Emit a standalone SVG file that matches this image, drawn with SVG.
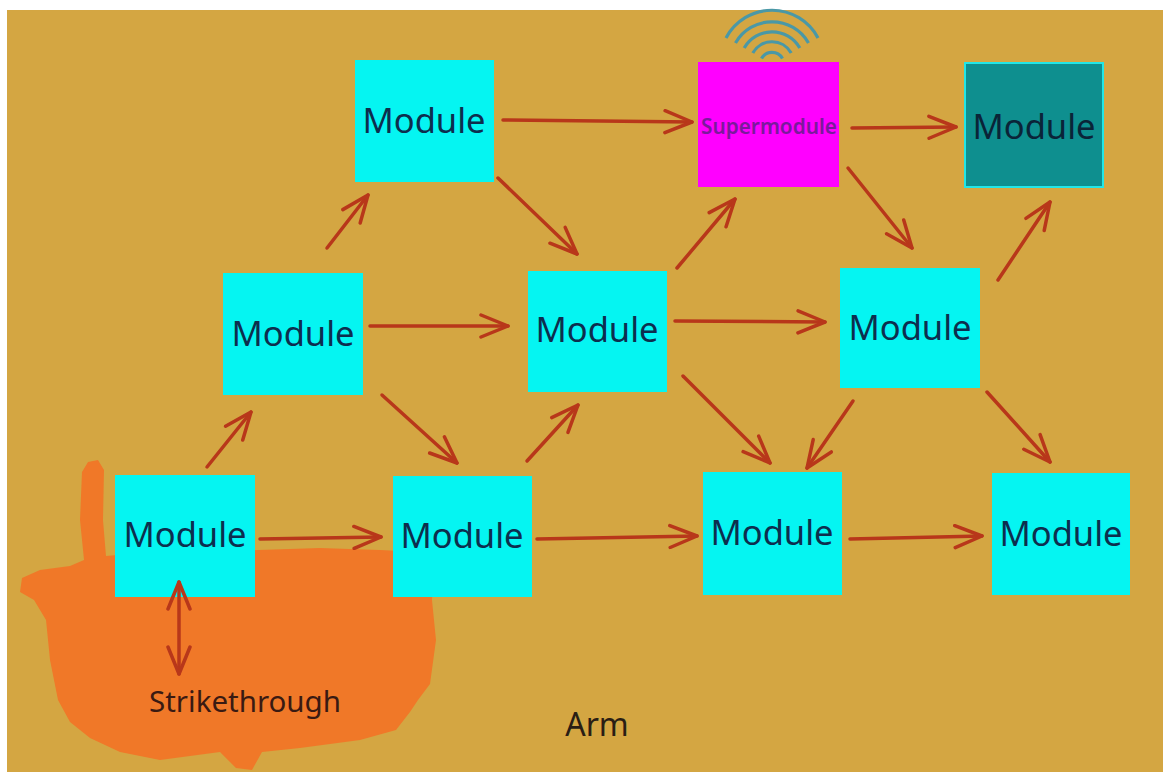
<svg xmlns="http://www.w3.org/2000/svg" width="1168" height="776" viewBox="0 0 1168 776">
<defs>
<marker id="ah" viewBox="0 0 32 26" refX="29" refY="13" markerWidth="32" markerHeight="26" markerUnits="userSpaceOnUse" orient="auto-start-reverse">
<path d="M2,2 L29,13 L2,24" fill="none" stroke="#b8371a" stroke-width="3.5" stroke-linecap="round" stroke-linejoin="round"/>
</marker>
</defs>
<style>
.box{fill:#05f5f2}
.lbl{font-family:"Noto Sans","Open Sans","DejaVu Sans",sans-serif;font-size:34.5px;fill:#0d2e4e;text-anchor:middle}
.con{fill:none;stroke:#b8371a;stroke-width:3.5;stroke-linecap:round;marker-end:url(#ah)}
.wifi{fill:none;stroke:#4a98a6;stroke-width:3.2}
</style>
<rect x="0" y="0" width="1168" height="776" fill="#ffffff"/>
<rect x="7" y="10" width="1156" height="762" fill="#d4a642"/>
<path d="M82,472 L88,462 L98,460 L104,470 L103,520 L106,556 L150,552 L210,554 L258,550 L320,548 L380,550 L420,552 L434,560 L432,600 L436,640 L430,684 L418,700 L410,712 L396,730 L360,740 L300,748 L262,752 L252,770 L236,768 L220,752 L160,760 L120,752 L90,738 L70,722 L58,700 L50,660 L46,620 L34,600 L20,592 L22,578 L40,570 L70,566 L84,560 L80,520 Z" fill="#f07828"/>
<g id="wifi">
<path class="wifi" d="M761.5,58.5 A12,12 0 0 1 782.5,58.5"/>
<path class="wifi" d="M752.8,53 A22,22 0 0 1 791.2,53"/>
<path class="wifi" d="M744.2,48 A32,32 0 0 1 799.8,48"/>
<path class="wifi" d="M735.5,43 A42,42 0 0 1 808.5,43"/>
<path class="wifi" d="M726,38 A52,52 0 0 1 818,38"/>
</g>
<g id="connectors">
<line class="con" x1="503" y1="120" x2="692" y2="122"/>
<line class="con" x1="852" y1="128" x2="956" y2="127"/>
<line class="con" x1="498" y1="178" x2="577" y2="254"/>
<line class="con" x1="327" y1="248" x2="368" y2="195"/>
<line class="con" x1="207" y1="467" x2="251" y2="412"/>
<line class="con" x1="370" y1="326" x2="508" y2="326"/>
<line class="con" x1="382" y1="395" x2="457" y2="463"/>
<line class="con" x1="527" y1="461" x2="578" y2="405"/>
<line class="con" x1="677" y1="268" x2="735" y2="199"/>
<line class="con" x1="848" y1="168" x2="912" y2="248"/>
<line class="con" x1="998" y1="280" x2="1050" y2="202"/>
<line class="con" x1="675" y1="321" x2="825" y2="322"/>
<line class="con" x1="683" y1="376" x2="770" y2="463"/>
<line class="con" x1="853" y1="401" x2="807" y2="468"/>
<line class="con" x1="987" y1="392" x2="1050" y2="462"/>
<line class="con" x1="260" y1="539" x2="381" y2="537"/>
<line class="con" x1="537" y1="539" x2="697" y2="536"/>
<line class="con" x1="850" y1="539" x2="982" y2="536"/>
</g>
<g id="n-top">
<rect class="box" x="355" y="60" width="139" height="122"/>
<text class="lbl" x="424" y="133">Module</text>
</g>
<g id="n-super">
<rect x="698" y="62" width="141" height="125" fill="#ff00ff"/>
<text x="769" y="134" font-family="Noto Sans,Open Sans,sans-serif" font-size="21" font-weight="600" fill="#7a1a9c" text-anchor="middle" textLength="136" lengthAdjust="spacingAndGlyphs">Supermodule</text>
</g>
<g id="n-teal">
<rect x="965" y="63" width="138" height="124" fill="#0e8f8f" stroke="#22e6e6" stroke-width="2"/>
<text class="lbl" x="1034" y="139" style="fill:#0a2438">Module</text>
</g>
<g id="n-midleft">
<rect class="box" x="223" y="273" width="140" height="122"/>
<text class="lbl" x="293" y="346">Module</text>
</g>
<g id="n-midcenter">
<rect class="box" x="528" y="271" width="139" height="121"/>
<text class="lbl" x="597" y="342">Module</text>
</g>
<g id="n-midright">
<rect class="box" x="840" y="268" width="140" height="120"/>
<text class="lbl" x="910" y="340">Module</text>
</g>
<g id="n-b1">
<rect class="box" x="115" y="475" width="140" height="122"/>
<text class="lbl" x="185" y="547">Module</text>
</g>
<g id="n-b2">
<rect class="box" x="393" y="476" width="139" height="121"/>
<text class="lbl" x="462" y="548">Module</text>
</g>
<g id="n-b3">
<rect class="box" x="703" y="472" width="139" height="123"/>
<text class="lbl" x="772" y="545">Module</text>
</g>
<g id="n-b4">
<rect class="box" x="992" y="473" width="138" height="122"/>
<text class="lbl" x="1061" y="546">Module</text>
</g>
<g id="connector-strike">
<line class="con" x1="179" y1="582" x2="179" y2="674" style="marker-start:url(#ah)"/>
</g>
<text x="245" y="712" font-family="Noto Sans,Open Sans,sans-serif" font-size="29.5" fill="#3a1a12" text-anchor="middle">Strikethrough</text>
<text x="597" y="736" font-family="Noto Sans,Open Sans,sans-serif" font-size="32" fill="#2a1e14" text-anchor="middle">Arm</text>
</svg>
